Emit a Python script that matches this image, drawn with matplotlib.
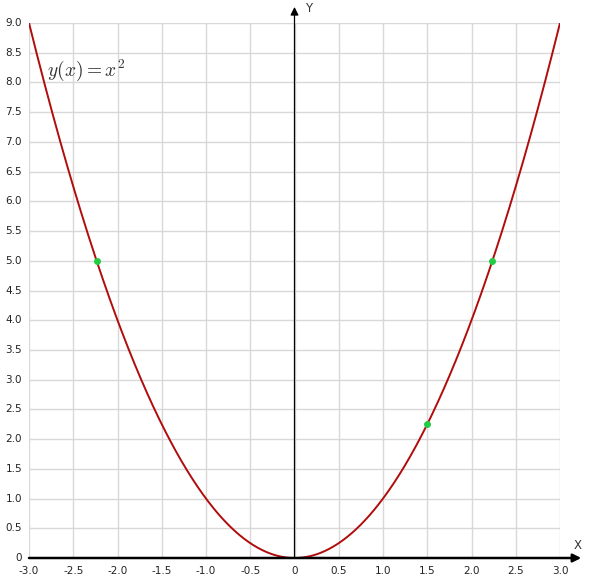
import numpy as np
import matplotlib.pyplot as plt

# curve and marked points
x_range = (-3.0, 3.0)
y_range = (0.0, 9.0)
point_x = [-np.sqrt(5), 1.5, np.sqrt(5)]
x_ticks = [-3.0, -2.5, -2.0, -1.5, -1.0, -0.5, 0.0, 0.5, 1.0, 1.5, 2.0, 2.5, 3.0]
y_ticks = [0.0, 0.5, 1.0, 1.5, 2.0, 2.5, 3.0, 3.5, 4.0, 4.5, 5.0, 5.5, 6.0, 6.5, 7.0, 7.5, 8.0, 8.5, 9.0]


def fmt(v):
    return "0" if v == 0 else "%.1f" % v


plt.rcParams['mathtext.fontset'] = 'cm'
fig = plt.figure(figsize=(5.9, 5.79), dpi=100)
ax = fig.add_axes([29 / 590, 21 / 579, 531 / 590, 535 / 579])

xs = np.linspace(x_range[0], x_range[1], 600)
ax.plot(xs, xs ** 2, color="#b00c0c", lw=1.4, zorder=3)
px = np.array(point_x)
ax.plot(px, px ** 2, "o", color="#22cc44", ms=4, zorder=4)

ax.set_xlim(*x_range)
ax.set_ylim(*y_range)
for t in x_ticks:
    ax.axvline(t, color="#d8d8d8", lw=1.0, zorder=0)
for t in y_ticks:
    ax.axhline(t, color="#d8d8d8", lw=1.0, zorder=0)
for s in ax.spines.values():
    s.set_visible(False)
ax.set_xticks([])
ax.set_yticks([])

# tick labels
for t in x_ticks:
    ax.annotate(fmt(t), (t, 0), xytext=(0, -6), textcoords="offset points",
                ha="center", va="top", fontsize=7.5, color="#222222", annotation_clip=False)
for t in y_ticks:
    ax.annotate(fmt(t), (-3.0, t), xytext=(-5, 0), textcoords="offset points",
                ha="right", va="center", fontsize=7.5, color="#222222", annotation_clip=False)

# axes with arrows
ax.annotate("", xy=(3.24, 0), xytext=(-3.0, 0), annotation_clip=False,
            arrowprops=dict(arrowstyle="-|>", color="black", lw=1.8,
                            shrinkA=0, shrinkB=0, mutation_scale=12))
ax.annotate("", xy=(0, 9.27), xytext=(0, 0), annotation_clip=False,
            arrowprops=dict(arrowstyle="-|>", color="black", lw=0.9,
                            shrinkA=0, shrinkB=0, mutation_scale=12))
ax.text(3.2, 0.1, "X", ha="center", va="bottom", fontsize=8.5, color="#333333", clip_on=False)
ax.text(0.12, 9.25, "Y", ha="left", va="center", fontsize=8.5, color="#333333", clip_on=False)

ax.text(-2.8, 8.2, r"$y(x) = x^2$", fontsize=14, color="#333333", ha="left", va="center")

fig.savefig("out.png", dpi=100)
